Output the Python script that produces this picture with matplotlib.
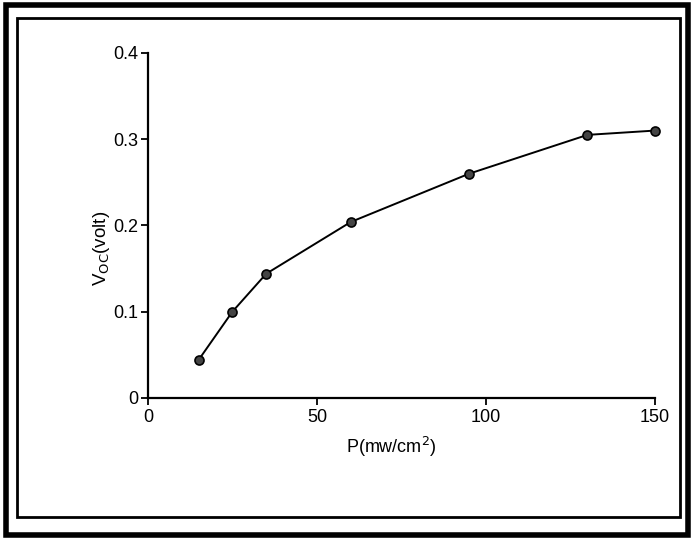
import matplotlib
matplotlib.use("Agg")
import matplotlib.pyplot as plt
from matplotlib.patches import Rectangle

# ── Daten ─────────────────────────────────────────────────────────────────────
leistung = [15, 25, 35, 60, 95, 130, 150]          # P in mW/cm²
voc      = [0.044, 0.100, 0.144, 0.204, 0.260, 0.305, 0.310]  # Voc in Volt
x_ticks  = [0, 50, 100, 150]
y_ticks  = [0, 0.1, 0.2, 0.3, 0.4]
y_labels = ["0", "0.1", "0.2", "0.3", "0.4"]

plt.rcParams["font.family"] = ["Liberation Sans", "DejaVu Sans"]

fig = plt.figure(figsize=(6.94, 5.40), dpi=100)
ax = fig.add_axes([0.213, 0.263, 0.731, 0.639])

ax.plot(leistung, voc, color="black", linewidth=1.4,
        marker="o", markersize=6.5, markerfacecolor="#444444",
        markeredgecolor="black", markeredgewidth=1.2, clip_on=False)

ax.set_xlim(0, 150)
ax.set_ylim(0, 0.4)
ax.set_xticks(x_ticks)
ax.set_yticks(y_ticks)
ax.set_yticklabels(y_labels)
ax.tick_params(labelsize=13, length=5, width=1.3, color="black")
ax.tick_params(axis="x", pad=3)
ax.tick_params(axis="y", pad=2)
for s in ["top", "right"]:
    ax.spines[s].set_visible(False)
for s in ["left", "bottom"]:
    ax.spines[s].set_linewidth(1.6)

ax.set_xlabel("P(mw/cm$^2$)", fontsize=13, labelpad=6, x=0.48)
ax.set_ylabel("V$_{\\mathrm{OC}}$(volt)", fontsize=13.5, labelpad=1, y=0.435)

# ── Doppelter Rahmen (wie im Scan) ────────────────────────────────────────────
fig.add_artist(Rectangle((0.008, 0.009), 0.984, 0.982, transform=fig.transFigure,
                         fill=False, edgecolor="black", linewidth=4))
fig.add_artist(Rectangle((0.024, 0.042), 0.956, 0.925, transform=fig.transFigure,
                         fill=False, edgecolor="black", linewidth=2))

fig.savefig("out.png", dpi=100)
